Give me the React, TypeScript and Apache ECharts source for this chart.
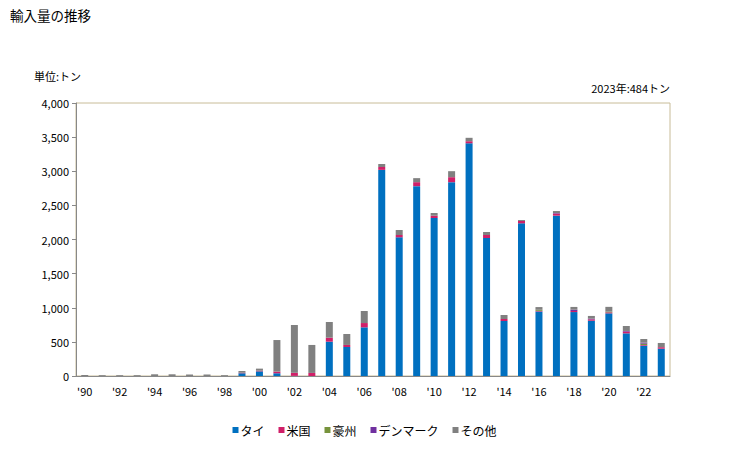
import React, { useEffect, useRef } from "react";
import * as echarts from "echarts";

const years = [
  "'90", "'91", "'92", "'93", "'94", "'95", "'96", "'97", "'98", "'99",
  "'00", "'01", "'02", "'03", "'04", "'05", "'06", "'07", "'08", "'09",
  "'10", "'11", "'12", "'13", "'14", "'15", "'16", "'17", "'18", "'19",
  "'20", "'21", "'22", "'23",
];

const thai = [
  0, 0, 0, 0, 0, 0, 0, 0, 0, 40,
  68, 40, 2, 0, 503, 425, 713, 3020, 2032, 2782,
  2315, 2840, 3410, 2022, 806, 2237, 945, 2349, 937, 810,
  918, 625, 444, 400,
];
const usa = [
  0, 0, 0, 0, 0, 0, 0, 0, 0, 8,
  10, 25, 45, 45, 58, 30, 63, 42, 34, 58,
  34, 73, 30, 44, 29, 34, 10, 30, 15, 20,
  15, 25, 10, 22,
];
const australia = [
  0, 0, 0, 0, 0, 0, 0, 0, 0, 0,
  0, 0, 0, 0, 0, 0, 0, 0, 0, 0,
  0, 0, 0, 0, 0, 0, 15, 0, 0, 0,
  10, 0, 20, 0,
];
const denmark = [
  0, 0, 0, 0, 0, 0, 0, 0, 0, 0,
  0, 0, 0, 0, 0, 0, 0, 0, 0, 0,
  0, 0, 0, 0, 0, 0, 0, 8, 20, 10,
  0, 10, 15, 0,
];
const others = [
  15, 12, 12, 12, 25, 25, 22, 22, 12, 25,
  30, 462, 700, 410, 230, 160, 176, 44, 73, 59,
  39, 88, 50, 44, 59, 14, 40, 30, 40, 40,
  70, 73, 53, 62,
];

const seriesNames = ["タイ", "米国", "豪州", "デンマーク", "その他"];
const seriesColors = ["#0070c0", "#d01f68", "#77933c", "#7030a0", "#808080"];
const seriesData = [thai, usa, australia, denmark, others];

const FONT = "'Noto Sans CJK JP', sans-serif";

export default function App() {
  const ref = useRef<HTMLDivElement>(null);
  useEffect(() => {
    if (!ref.current) return;
    const chart = echarts.init(ref.current, null, { renderer: "svg" });
    chart.setOption({
      animation: false,
      backgroundColor: "#ffffff",
      textStyle: { fontFamily: FONT },
      title: [
        {
          text: "輸入量の推移",
          left: 5,
          top: 3,
          textStyle: { fontSize: 13.5, fontWeight: "normal", color: "#000", fontFamily: FONT },
        },
        {
          text: "単位:トン",
          left: 29,
          top: 65,
          textStyle: { fontSize: 11, fontWeight: "normal", color: "#000", fontFamily: FONT },
        },
        {
          text: "2023年:484トン",
          right: 54,
          top: 77,
          textStyle: { fontSize: 11, fontWeight: "normal", color: "#000", fontFamily: FONT },
        },
      ],
      legend: {
        bottom: 9,
        left: "center",
        itemWidth: 6,
        itemHeight: 6,
        itemGap: 14,
        icon: "rect",
        textStyle: { fontSize: 12, color: "#000", fontFamily: FONT, padding: [0, 0, 0, -3] },
        data: seriesNames,
      },
      grid: {
        left: 76,
        right: 59,
        top: 103,
        bottom: 74,
        show: true,
        borderColor: "#c8bc98",
        borderWidth: 1,
        backgroundColor: "transparent",
      },
      xAxis: {
        type: "category",
        data: years,
        axisLine: { lineStyle: { color: "#888888", width: 1 } },
        axisTick: { show: false },
        axisLabel: { interval: 1, fontSize: 11, color: "#000", margin: 9, fontFamily: FONT },
      },
      yAxis: {
        type: "value",
        min: 0,
        max: 4000,
        interval: 500,
        axisLine: { show: true, lineStyle: { color: "#888888", width: 1 } },
        axisTick: { show: true, length: 4, lineStyle: { color: "#888888" } },
        splitLine: { show: false },
        axisLabel: {
          fontSize: 11,
          color: "#000",
          margin: 7,
          fontFamily: FONT,
          formatter: (v: number) => v.toLocaleString("en-US"),
        },
      },
      series: seriesNames.map((name, i) => ({
        name,
        type: "bar",
        stack: "total",
        barWidth: 7,
        itemStyle: { color: seriesColors[i] },
        data: seriesData[i],
      })),
    });
    return () => chart.dispose();
  }, []);
  return <div ref={ref} style={{ width: 729, height: 450, position: "absolute", left: 0, top: 0 }} />;
}
